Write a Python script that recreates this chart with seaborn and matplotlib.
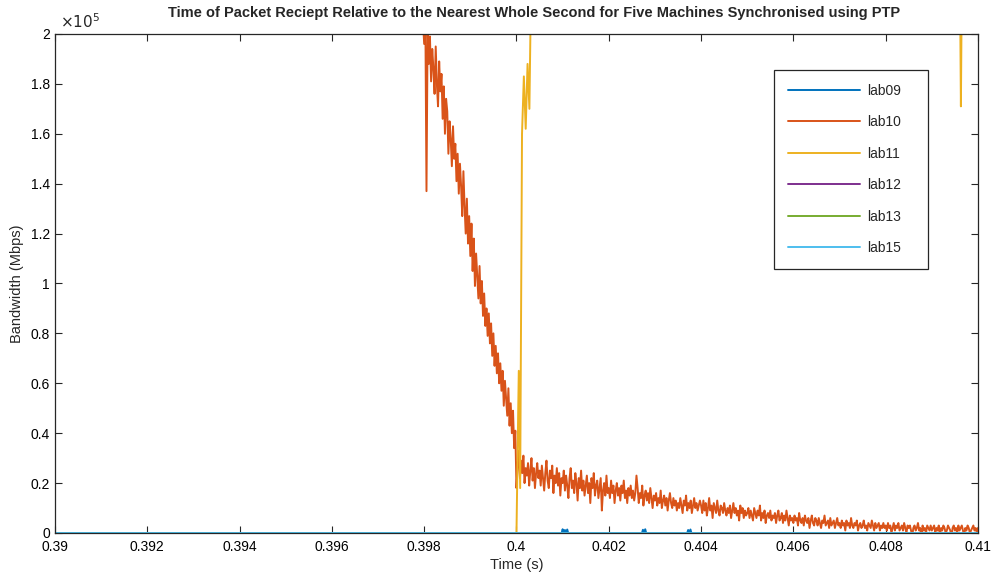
import numpy as np
import pandas as pd
import seaborn as sns
import matplotlib.pyplot as plt
from matplotlib.ticker import FuncFormatter, MultipleLocator

# series names and MATLAB default colours
names = ["lab09", "lab10", "lab11", "lab12", "lab13", "lab15"]
colors = ["#0072BD", "#D95319", "#EDB120", "#7E2F8E", "#77AC30", "#4DBEEE"]

# lab10: sampled every 25 us from 0.3979 s (thousands of Mbps)
lab10_t0 = 0.3979
lab10_dt = 0.000025
lab10_k = [
    # 0.3979 - 0.4000
    235, 228, 214, 205, 196, 208, 137, 202, 188, 199, 181, 194, 186, 176, 195, 180,
    171, 189, 177, 184, 166, 179, 160, 174, 169, 152, 165, 158, 147, 163, 150, 156,
    141, 152, 136, 148, 139, 127, 145, 131, 120, 134, 116, 127, 111, 124, 105, 118,
    99, 112, 103, 94, 107, 92, 101, 87, 96, 83, 90, 79, 88, 76, 84, 71,
    80, 67, 75, 64, 72, 60, 68, 57, 65, 51, 61, 54, 47, 58, 43, 52,
    40, 49, 34, 41,
    # 0.4000 - 0.4040
    18, 27, 33, 22, 29, 24, 31, 20, 26, 23, 28, 19, 25, 30, 21, 26, 18, 24, 28, 22,
    25, 19, 27, 22, 17, 24, 29, 21, 18, 25, 22, 27, 16, 23, 20, 26, 19, 24, 15, 22,
    20, 25, 17, 23, 19, 14, 22, 26, 18, 21, 16, 24, 20, 13, 22, 18, 25, 17, 21, 15,
    19, 23, 16, 20, 12, 22, 18, 24, 15, 19, 21, 14, 18, 22, 9, 17, 20, 15, 23, 16,
    18, 14, 21, 16, 19, 12, 17, 20, 15, 18, 13, 19, 16, 21, 14, 17, 12, 18, 15, 19,
    14, 17, 13, 16, 23, 18, 12, 16, 14, 19, 11, 15, 17, 13, 16, 12, 18, 14, 10, 15,
    13, 16, 11, 14, 12, 17, 10, 13, 15, 11, 14, 9, 13, 16, 12, 10, 14, 11, 13, 9,
    12, 10, 14, 11, 8, 13, 11, 15, 9, 12, 10, 13, 8, 11, 14, 10, 12, 9, 11, 13,
    # 0.4040 - 0.4100
    11, 8, 13, 9, 12, 7, 10, 14, 9, 11, 6, 12, 10, 8, 13, 9, 7, 11, 10, 8,
    12, 9, 7, 10, 8, 11, 6, 9, 12, 8, 10, 7, 9, 5, 11, 8, 10, 6, 9, 7,
    8, 10, 6, 9, 7, 5, 10, 8, 6, 9, 7, 11, 5, 8, 6, 9, 4, 7, 8, 6,
    9, 5, 7, 6, 8, 4, 7, 9, 5, 6, 8, 4, 7, 5, 9, 6, 3, 7, 5, 6,
    4, 7, 5, 6, 3, 8, 5, 4, 6, 3, 7, 5, 4, 6, 2, 5, 7, 4, 3, 6,
    5, 3, 6, 4, 2, 5, 4, 7, 3, 4, 5, 2, 6, 3, 4, 5, 2, 4, 6, 3,
    4, 2, 5, 3, 4, 1, 5, 3, 4, 2, 6, 3, 2, 4, 3, 5, 1, 3, 4, 2,
    3, 5, 2, 3, 1, 4, 3, 2, 5, 3, 1, 4, 2, 3, 4, 1, 3, 2, 4, 2,
    3, 1, 4, 2, 3, 0, 2, 4, 1, 3, 2, 4, 1, 2, 3, 1, 4, 2, 0, 3,
    2, 3, 1, -1, 2, 3, 1, 2, 4, 1, 2, -2, 3, 1, 2, 0, 3, 2, 1, 3,
    1, 2, 3, 0, 2, 1, 3, -1, 2, 1, 3, 2, 0, 1, 3, 2, 1, -2, 2, 3,
    1, 2, 0, 3, 1, 2, 3, 1, -1, 2, 1, 3, 2, 0, 1, 2, 3, 1, 2, 0,
    2,
]

# lab11: jumps up at 0.4 s and stays off the top of the axes
lab11_t = [0.3900, 0.4000, 0.40005, 0.40008, 0.40012, 0.40016, 0.40020, 0.40024,
           0.40028, 0.40033, 0.40960, 0.40963, 0.40966, 0.4100]
lab11_k = [0, 0, 65, 18, 160, 183, 162, 188, 170, 240, 245, 171, 245, 245]

# lab09: flat with a few tiny blips
lab09_t = [0.3900, 0.40098, 0.40100, 0.40102, 0.40105, 0.40107, 0.40110, 0.40112,
           0.40272, 0.40274, 0.40276, 0.40279, 0.40281,
           0.40370, 0.40372, 0.40374, 0.40377, 0.40379, 0.4100]
lab09_k = [0, 0, 1.5, 0, 1.2, 0, 1.4, 0,
           0, 1.3, 0, 1.5, 0,
           0, 1.2, 0, 1.4, 0, 0]

# lab12, lab13, lab15 sit on zero
flat_t = [0.3900, 0.4100]
flat_k = [0, 0]

lab10_t = lab10_t0 + lab10_dt * np.arange(len(lab10_k))

series = {
    "lab09": (lab09_t, lab09_k),
    "lab10": (lab10_t, lab10_k),
    "lab11": (lab11_t, lab11_k),
    "lab12": (flat_t, flat_k),
    "lab13": (flat_t, flat_k),
    "lab15": (flat_t, flat_k),
}

sns.set_theme(style="ticks")
plt.rcParams["font.family"] = ["Liberation Sans", "DejaVu Sans"]

fig = plt.figure(figsize=(9.96, 5.72), dpi=100)
ax = fig.add_axes([0.0552, 0.0682, 0.9267, 0.8724])

for name, col in zip(names, colors):
    t, k = series[name]
    d = pd.DataFrame({"t": t, "bw": np.array(k, dtype=float) * 1000})
    sns.lineplot(data=d, x="t", y="bw", ax=ax, color=col, lw=1.4,
                 estimator=None, sort=False, label=name)

ax.set_xlim(0.39, 0.41)
ax.set_ylim(0, 2e5)
ax.xaxis.set_major_locator(MultipleLocator(0.002))
ax.yaxis.set_major_locator(MultipleLocator(0.2e5))
ax.xaxis.set_major_formatter(FuncFormatter(lambda v, p: "%g" % round(v, 4)))
ax.yaxis.set_major_formatter(FuncFormatter(lambda v, p: "%g" % round(v / 1e5, 2)))
ax.tick_params(direction="in", top=True, right=True, length=5, width=0.8,
               labelsize=10, colors="#262626", labelcolor="black")
ax.tick_params(axis="x", pad=5)
for s in ax.spines.values():
    s.set_color("#262626")
    s.set_linewidth(0.9)

ax.text(0.005, 1.006, r"$\times10^{5}$", transform=ax.transAxes, fontsize=11,
        color="#262626", ha="left", va="bottom")

ax.set_xlabel("Time (s)", fontsize=10.5, labelpad=3)
ax.set_ylabel("Bandwidth (Mbps)", fontsize=10.5, labelpad=5)
ax.set_title("Time of Packet Reciept Relative to the Nearest Whole Second for Five Machines Synchronised using PTP",
             fontsize=10.5, fontweight="bold", x=0.519, pad=12)

leg = ax.legend(loc="upper left", bbox_to_anchor=(0.779, 0.5, 0.1668, 0.428),
                mode="expand", fontsize=10,
                frameon=True, fancybox=False, framealpha=1, edgecolor="#262626",
                handlelength=5.2, handletextpad=0.5, labelspacing=1.26,
                borderpad=1.0, borderaxespad=0)
leg.get_frame().set_linewidth(0.9)
for h in leg.get_lines():
    h.set_linewidth(1.4)

fig.savefig("out.png", dpi=100, facecolor="white")
